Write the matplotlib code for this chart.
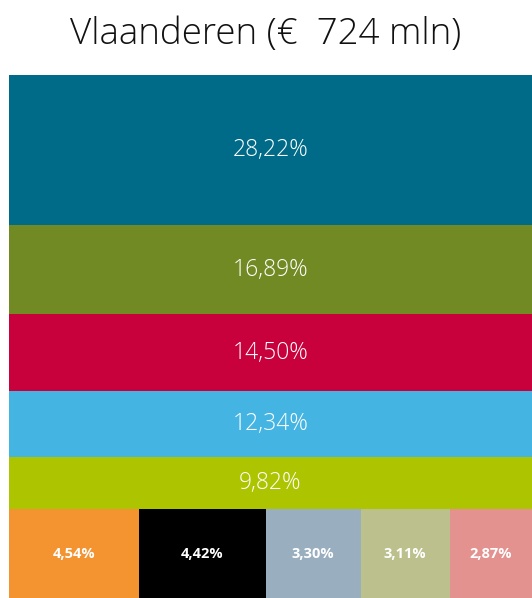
import matplotlib.pyplot as plt
from matplotlib.patches import Rectangle

title = "Vlaanderen (€  724 mln)"
row_values = [28.22, 16.89, 14.50, 12.34, 9.82]
row_colors = ["#006b88", "#728a24", "#c8003c", "#44b5e3", "#adc400"]
bottom_values = [4.54, 4.42, 3.30, 3.11, 2.87]
bottom_colors = ["#f39430", "#000000", "#99afbf", "#bcc08c", "#e3928f"]

def fmt(v):
    return f"{v:.2f}".replace(".", ",") + "%"

# bottom strip takes ~17% of the height in the reference
bottom_share = 89 / 523
bottom_sum = sum(bottom_values)
rows_sum = sum(row_values)

fig = plt.figure(figsize=(5.32, 5.98), dpi=100)
ax = fig.add_axes([9 / 532, 0, 523 / 532, 523 / 598])
ax.set_xlim(0, 1)
ax.set_ylim(0, 1)
ax.axis("off")

top = 1.0
for v, c in zip(row_values, row_colors):
    h = v / rows_sum * (1 - bottom_share)
    ax.add_patch(Rectangle((0, top - h), 1, h, facecolor=c, edgecolor="none"))
    ax.text(0.5, top - h / 2, fmt(v), ha="center", va="center", color="white",
            fontsize=16.5, family="Open Sans", fontweight="light")
    top -= h

x = 0
for v, c in zip(bottom_values, bottom_colors):
    w = v / bottom_sum
    ax.add_patch(Rectangle((x, 0), w, top, facecolor=c, edgecolor="none"))
    ax.text(x + w / 2, top / 2, fmt(v), ha="center", va="center", color="white",
            fontsize=10.5, family="Open Sans", fontweight="bold")
    x += w

fig.text(0.5, 1 - 35 / 598, title, ha="center", va="center", fontsize=26.5,
         family="Open Sans", fontweight="light", color="#111111")
fig.savefig("out.png", dpi=100)
